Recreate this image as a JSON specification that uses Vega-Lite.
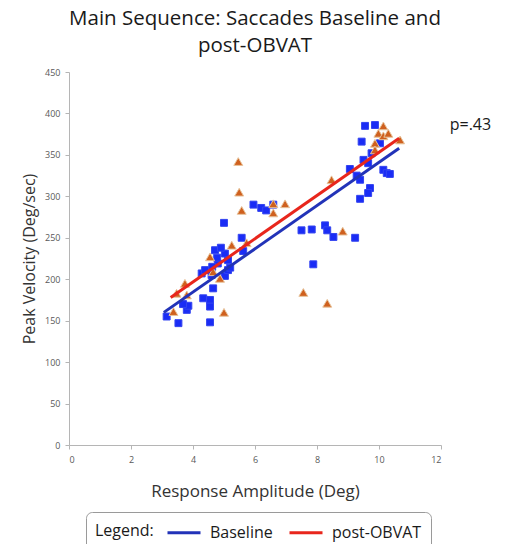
{
  "$schema": "https://vega.github.io/schema/vega-lite/v6.json",
  "width": 372,
  "height": 373,
  "autosize": {"type": "none"},
  "padding": {"left": 69, "top": 72, "right": 72, "bottom": 99},
  "background": "white",
  "title": {
    "text": ["Main Sequence: Saccades Baseline and", "post-OBVAT"],
    "font": "Open Sans",
    "fontSize": 20.5,
    "fontWeight": "normal",
    "color": "#1a1a1a",
    "anchor": "middle",
    "lineHeight": 27,
    "offset": 12
  },
  "config": {
    "view": {"stroke": null},
    "font": "Open Sans",
    "axis": {
      "grid": false,
      "domainColor": "#b5b5b5",
      "tickColor": "#b5b5b5",
      "tickSize": 4,
      "labelColor": "#595959",
      "labelFont": "Open Sans",
      "labelFontSize": 9,
      "titleFont": "Open Sans",
      "titleFontWeight": "normal",
      "titleColor": "#333333"
    },
    "legend": {
      "labelFont": "Open Sans",
      "titleFont": "Open Sans"
    }
  },
  "datasets": {
    "points": [
      {"group": "Baseline", "amp": 3.15, "vel": 155},
      {"group": "Baseline", "amp": 3.53, "vel": 147},
      {"group": "Baseline", "amp": 3.8, "vel": 163},
      {"group": "Baseline", "amp": 3.85, "vel": 168},
      {"group": "Baseline", "amp": 3.68, "vel": 170},
      {"group": "Baseline", "amp": 4.33, "vel": 177},
      {"group": "Baseline", "amp": 4.55, "vel": 175},
      {"group": "Baseline", "amp": 4.55, "vel": 167},
      {"group": "Baseline", "amp": 4.55, "vel": 148},
      {"group": "Baseline", "amp": 4.65, "vel": 189},
      {"group": "Baseline", "amp": 4.28, "vel": 207},
      {"group": "Baseline", "amp": 4.39, "vel": 211},
      {"group": "Baseline", "amp": 4.6, "vel": 205},
      {"group": "Baseline", "amp": 5.03, "vel": 204},
      {"group": "Baseline", "amp": 5.13, "vel": 211},
      {"group": "Baseline", "amp": 4.8, "vel": 219},
      {"group": "Baseline", "amp": 5.13, "vel": 223},
      {"group": "Baseline", "amp": 5.03, "vel": 231},
      {"group": "Baseline", "amp": 4.71, "vel": 235},
      {"group": "Baseline", "amp": 4.62, "vel": 215},
      {"group": "Baseline", "amp": 5.2, "vel": 214},
      {"group": "Baseline", "amp": 4.9, "vel": 238},
      {"group": "Baseline", "amp": 4.78, "vel": 226},
      {"group": "Baseline", "amp": 5.57, "vel": 250},
      {"group": "Baseline", "amp": 5.62, "vel": 234},
      {"group": "Baseline", "amp": 5.0, "vel": 268},
      {"group": "Baseline", "amp": 5.95, "vel": 290},
      {"group": "Baseline", "amp": 6.2, "vel": 286},
      {"group": "Baseline", "amp": 6.36, "vel": 283},
      {"group": "Baseline", "amp": 6.59, "vel": 290},
      {"group": "Baseline", "amp": 7.5, "vel": 259},
      {"group": "Baseline", "amp": 7.83, "vel": 260},
      {"group": "Baseline", "amp": 8.26, "vel": 265},
      {"group": "Baseline", "amp": 8.33, "vel": 259},
      {"group": "Baseline", "amp": 8.53, "vel": 251},
      {"group": "Baseline", "amp": 9.23, "vel": 250},
      {"group": "Baseline", "amp": 7.88, "vel": 218},
      {"group": "Baseline", "amp": 9.55, "vel": 385},
      {"group": "Baseline", "amp": 9.87, "vel": 386},
      {"group": "Baseline", "amp": 9.44, "vel": 366},
      {"group": "Baseline", "amp": 10.03, "vel": 364},
      {"group": "Baseline", "amp": 9.76, "vel": 352},
      {"group": "Baseline", "amp": 9.5, "vel": 344},
      {"group": "Baseline", "amp": 9.65, "vel": 340},
      {"group": "Baseline", "amp": 9.06, "vel": 333},
      {"group": "Baseline", "amp": 9.28, "vel": 325},
      {"group": "Baseline", "amp": 9.39, "vel": 320},
      {"group": "Baseline", "amp": 10.14, "vel": 332},
      {"group": "Baseline", "amp": 10.25, "vel": 328},
      {"group": "Baseline", "amp": 10.35, "vel": 327},
      {"group": "Baseline", "amp": 9.71, "vel": 310},
      {"group": "Baseline", "amp": 9.65, "vel": 304},
      {"group": "Baseline", "amp": 9.39, "vel": 297},
      {"group": "post-OBVAT", "amp": 3.37, "vel": 161},
      {"group": "post-OBVAT", "amp": 3.47, "vel": 183},
      {"group": "post-OBVAT", "amp": 3.8, "vel": 181},
      {"group": "post-OBVAT", "amp": 3.74, "vel": 195},
      {"group": "post-OBVAT", "amp": 4.65, "vel": 209},
      {"group": "post-OBVAT", "amp": 4.87, "vel": 201},
      {"group": "post-OBVAT", "amp": 5.0, "vel": 160},
      {"group": "post-OBVAT", "amp": 4.55, "vel": 227},
      {"group": "post-OBVAT", "amp": 5.25, "vel": 241},
      {"group": "post-OBVAT", "amp": 5.73, "vel": 244},
      {"group": "post-OBVAT", "amp": 5.46, "vel": 342},
      {"group": "post-OBVAT", "amp": 5.49, "vel": 305},
      {"group": "post-OBVAT", "amp": 5.57, "vel": 283},
      {"group": "post-OBVAT", "amp": 6.59, "vel": 291},
      {"group": "post-OBVAT", "amp": 6.59, "vel": 280},
      {"group": "post-OBVAT", "amp": 6.97, "vel": 291},
      {"group": "post-OBVAT", "amp": 7.56, "vel": 184},
      {"group": "post-OBVAT", "amp": 8.33, "vel": 171},
      {"group": "post-OBVAT", "amp": 8.83, "vel": 258},
      {"group": "post-OBVAT", "amp": 8.47, "vel": 320},
      {"group": "post-OBVAT", "amp": 10.14, "vel": 385},
      {"group": "post-OBVAT", "amp": 9.98, "vel": 376},
      {"group": "post-OBVAT", "amp": 10.14, "vel": 373},
      {"group": "post-OBVAT", "amp": 10.3, "vel": 376},
      {"group": "post-OBVAT", "amp": 9.87, "vel": 364},
      {"group": "post-OBVAT", "amp": 10.68, "vel": 368},
      {"group": "post-OBVAT", "amp": 9.87, "vel": 356}
    ],
    "lines": [
      {"group": "Baseline", "amp": 3.06, "vel": 160},
      {"group": "Baseline", "amp": 10.65, "vel": 358},
      {"group": "post-OBVAT", "amp": 3.28, "vel": 178},
      {"group": "post-OBVAT", "amp": 10.65, "vel": 370}
    ]
  },
  "layer": [
    {
      "data": {"name": "points"},
      "transform": [{"filter": "datum.group === 'Baseline'"}],
      "mark": {"type": "point", "shape": "square", "filled": true, "opacity": 1, "fill": "#1a2cf5", "stroke": "#3344f0", "strokeWidth": 1, "size": 48},
      "encoding": {
        "x": {
          "field": "amp", "type": "quantitative",
          "scale": {"domain": [0, 12], "nice": false},
          "axis": {"values": [0, 2, 4, 6, 8, 10, 12], "title": "Response Amplitude (Deg)", "titleFontSize": 17, "labelPadding": 6, "titlePadding": 19}
        },
        "y": {
          "field": "vel", "type": "quantitative",
          "scale": {"domain": [0, 450], "nice": false},
          "axis": {"values": [0, 50, 100, 150, 200, 250, 300, 350, 400, 450], "title": "Peak Velocity (Deg/sec)", "titleFontSize": 16, "labelPadding": 5, "titlePadding": 7}
        }
      }
    },
    {
      "data": {"name": "points"},
      "transform": [{"filter": "datum.group === 'post-OBVAT'"}],
      "mark": {"type": "point", "shape": "triangle-up", "filled": true, "opacity": 1, "fill": "#cf601e", "stroke": "#e8c49c", "strokeWidth": 1, "size": 80},
      "encoding": {
        "x": {"field": "amp", "type": "quantitative"},
        "y": {"field": "vel", "type": "quantitative"}
      }
    },
    {
      "data": {"name": "lines"},
      "mark": {"type": "line", "strokeWidth": 3},
      "encoding": {
        "x": {"field": "amp", "type": "quantitative"},
        "y": {"field": "vel", "type": "quantitative"},
        "color": {
          "field": "group", "type": "nominal",
          "scale": {"domain": ["Baseline", "post-OBVAT"], "range": ["#2233b8", "#e8261c"]},
          "legend": {
            "title": "Legend:",
            "orient": "none",
            "legendX": 17,
            "legendY": 440,
            "direction": "horizontal",
            "titleOrient": "left",
            "titleFontSize": 16,
            "titleFontWeight": "normal",
            "titleColor": "#1a1a1a",
            "titlePadding": 12,
            "labelFontSize": 16,
            "labelColor": "#1a1a1a",
            "symbolType": "M-1,0L2.3,0",
            "symbolSize": 400,
            "symbolStrokeWidth": 3,
            "columnPadding": 10,
            "labelOffset": 21,
            "strokeColor": "#9a9a9a",
            "cornerRadius": 6,
            "padding": 9
          }
        }
      }
    },
    {
      "data": {"values": [{"label": "p=.43"}]},
      "mark": {"type": "text", "fontSize": 16, "align": "center", "baseline": "middle", "color": "#1a1a1a"},
      "encoding": {
        "x": {"datum": 12.95, "type": "quantitative"},
        "y": {"datum": 386, "type": "quantitative"},
        "text": {"field": "label"}
      }
    }
  ]
}
